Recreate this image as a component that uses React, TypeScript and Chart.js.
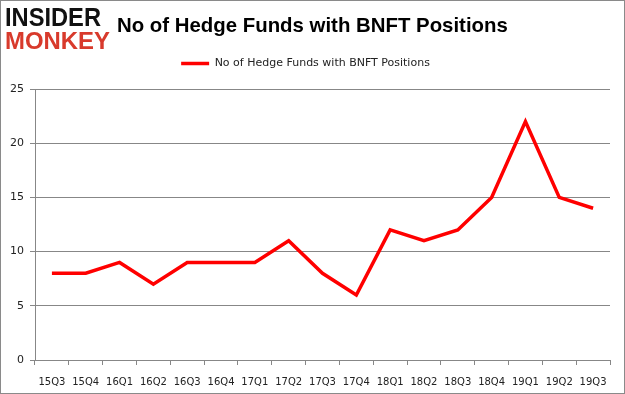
import React, { useEffect, useRef } from "react";
import { Chart, registerables } from "chart.js";

Chart.register(...registerables);

const categories = ["15Q3", "15Q4", "16Q1", "16Q2", "16Q3", "16Q4", "17Q1", "17Q2", "17Q3", "17Q4", "18Q1", "18Q2", "18Q3", "18Q4", "19Q1", "19Q2", "19Q3"];
const hedgeFundCounts = [8, 8, 9, 7, 9, 9, 9, 11, 8, 6, 12, 11, 12, 15, 22, 15, 14];
const yMin = 0;
const yMax = 25;
const yStep = 5;
const seriesLabel = "No of Hedge Funds with BNFT Positions";
const titleText = "No of Hedge Funds with BNFT Positions";
const logoTop = "INSIDER";
const logoBottom = "MONKEY";

const tickFont = { family: "'DejaVu Sans', Verdana, sans-serif", size: 10 };
const legendFont = { family: "'DejaVu Sans', Verdana, sans-serif", size: 11 };
const gridColor = "#878787";
const textColor = "#222222";

const legendGap = {
  id: "legendGap",
  afterInit(chart: any) {
    const legend = chart.legend;
    if (!legend || legend.__gapPatched) return;
    const origFit = legend.fit.bind(legend);
    legend.fit = function () {
      origFit();
      this.height += 10;
    };
    legend.__gapPatched = true;
  },
};

export default function App() {
  const ref = useRef<HTMLCanvasElement>(null);

  useEffect(() => {
    document.body.style.margin = "0";
    const canvas = ref.current;
    if (!canvas) return;
    const chart = new Chart(canvas, {
      type: "line",
      data: {
        labels: categories,
        datasets: [
          {
            label: seriesLabel,
            data: hedgeFundCounts,
            borderColor: "#ff0000",
            backgroundColor: "#ff0000",
            borderWidth: 3.5,
            pointRadius: 0,
            pointHoverRadius: 0,
            tension: 0,
            fill: false,
          },
        ],
      },
      plugins: [legendGap],
      options: {
        responsive: false,
        animation: false,
        devicePixelRatio: 1,
        layout: { padding: { top: 47, left: 0, right: 14, bottom: 0 } },
        plugins: {
          legend: {
            position: "top",
            labels: {
              usePointStyle: true,
              pointStyle: "line",
              pointStyleWidth: 28,
              boxHeight: 4,
              font: legendFont,
              color: textColor,
              padding: 10,
            },
          },
          tooltip: { enabled: false },
          title: { display: false },
        },
        scales: {
          x: {
            offset: true,
            grid: {
              display: true,
              drawOnChartArea: false,
              drawTicks: true,
              tickLength: 5,
              color: gridColor,
              offset: true,
            },
            border: { color: gridColor, width: 1 },
            ticks: {
              font: tickFont,
              color: textColor,
              padding: 11,
              maxRotation: 0,
              autoSkip: false,
            },
            afterFit: (s: any) => {
              s.height = 33;
            },
          },
          y: {
            min: yMin,
            max: yMax,
            grid: { color: gridColor, tickLength: 5 },
            border: { color: gridColor, width: 1 },
            ticks: {
              stepSize: yStep,
              font: legendFont,
              color: textColor,
              padding: 6,
            },
            afterFit: (s: any) => {
              s.width = 34;
            },
          },
        },
      },
    });
    return () => chart.destroy();
  }, []);

  return (
    <div
      style={{
        position: "fixed",
        left: 0,
        top: 0,
        width: 625,
        height: 394,
        boxSizing: "border-box",
        border: "1px solid #8a8a8a",
        background: "#ffffff",
        overflow: "hidden",
      }}
    >
      <canvas ref={ref} width={623} height={392} style={{ position: "absolute", left: 0, top: 0, width: 623, height: 392 }} />
      <div
        style={{
          position: "absolute",
          left: 4,
          top: 3,
          fontFamily: "'Liberation Sans', Arial, sans-serif",
          fontWeight: 900,
          fontSize: 26,
          lineHeight: "26px",
          color: "#111111",
          transform: "scaleX(0.91)",
          transformOrigin: "left top",
          whiteSpace: "nowrap",
        }}
      >
        {logoTop}
      </div>
      <div
        style={{
          position: "absolute",
          left: 4,
          top: 27,
          fontFamily: "'Liberation Sans', Arial, sans-serif",
          fontWeight: 900,
          fontSize: 23,
          lineHeight: "26px",
          color: "#d83a2c",
          transform: "scaleX(1.04)",
          transformOrigin: "left top",
          whiteSpace: "nowrap",
        }}
      >
        {logoBottom}
      </div>
      <div
        style={{
          position: "absolute",
          left: 116,
          top: 12,
          fontFamily: "'Liberation Sans', Arial, sans-serif",
          fontWeight: 700,
          fontSize: 20.4,
          lineHeight: "24px",
          color: "#000000",
          whiteSpace: "nowrap",
        }}
      >
        {titleText}
      </div>
    </div>
  );
}
